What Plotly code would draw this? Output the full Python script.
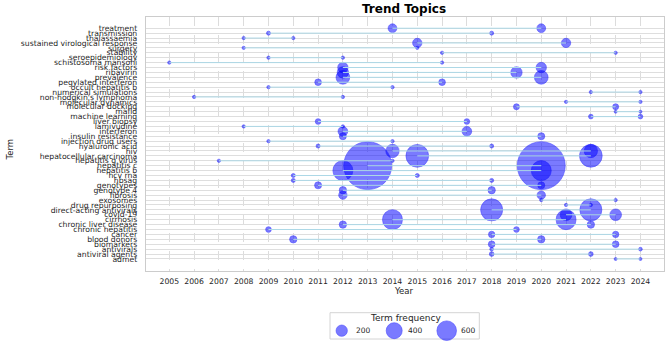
import numpy as np
import plotly.graph_objects as go

# ---- data (top row first) ----
terms = [
    "treatment", "transmission", "thalassaemia", "sustained virological response",
    "surgery", "stability", "seroepidemiology", "schistosoma mansoni", "risk factors",
    "ribavirin", "prevalence", "pegylated interferon", "occult hepatitis b",
    "numerical simulations", "non-hodgkin's lymphoma", "molecular dynamics",
    "molecular docking", "mafld", "machine learning", "liver biopsy", "lamivudine",
    "interferon", "insulin resistance", "injection drug users", "hyaluronic acid",
    "hiv", "hepatocellular carcinoma", "hepatitis g virus", "hepatitis c",
    "hepatitis b", "hcv rna", "hbsag", "genotypes", "genotype 4", "fibrosis",
    "exosomes", "drug repurposing", "direct-acting antivirals", "covid-19",
    "cirrhosis", "chronic liver disease", "chronic hepatitis", "cancer",
    "blood donors", "biomarkers", "antivirals", "antiviral agents", "admet",
]
start_year = [
    2014, 2009, 2008, 2015, 2008, 2016, 2009, 2005, 2012, 2012, 2012, 2011, 2009,
    2022, 2006, 2021, 2019, 2023, 2022, 2011, 2008, 2012, 2012, 2009, 2011, 2014,
    2015, 2007, 2013, 2012, 2010, 2010, 2011, 2012, 2012, 2020, 2021, 2018, 2021,
    2014, 2012, 2009, 2018, 2010, 2018, 2018, 2018, 2023,
]
end_year = [
    2020, 2018, 2010, 2021, 2015, 2023, 2012, 2016, 2020, 2019, 2020, 2016, 2014,
    2024, 2012, 2024, 2023, 2024, 2024, 2017, 2012, 2017, 2020, 2014, 2018, 2022,
    2022, 2014, 2020, 2020, 2015, 2018, 2020, 2018, 2020, 2023, 2022, 2022, 2023,
    2021, 2022, 2019, 2023, 2020, 2023, 2024, 2022, 2024,
]
frequency = [
    120, 25, 17, 136, 17, 17, 17, 17, 167, 200, 292, 69, 17,
    17, 17, 17, 56, 14, 34, 50, 17, 146, 77, 17, 25, 278,
    803, 17, 3600, 625, 25, 25, 77, 84, 109, 17, 17, 756, 213,
    625, 84, 50, 63, 84, 69, 21, 34, 14,
]
years = list(range(2005, 2025))
legend_values = [200, 400, 600]

W, H = 669, 342
FONT = "DejaVu Sans"
BUBBLE = "rgba(0,0,255,0.74)"


def diam(f):
    return 0.8 * np.sqrt(np.asarray(f, dtype=float))


fig = go.Figure()

# bubbles at both ends
fig.add_trace(go.Scatter(
    x=start_year + end_year,
    y=terms + terms,
    mode="markers",
    marker=dict(size=diam(frequency + frequency), sizemode="diameter",
                color=BUBBLE, line=dict(color=BUBBLE, width=0.8)),
    showlegend=False, hoverinfo="skip", cliponaxis=False,
))

# connecting lines (drawn on top)
lx, ly = [], []
for t, s, e in zip(terms, start_year, end_year):
    lx += [s, e, None]
    ly += [t, t, None]
fig.add_trace(go.Scatter(
    x=lx, y=ly, mode="lines", line=dict(color="#add8e6", width=1.0),
    showlegend=False, hoverinfo="skip", connectgaps=False,
))

# size legend on its own small axes
fig.add_trace(go.Scatter(
    x=[0, 1, 2], y=[0.316] * 3, xaxis="x2", yaxis="y2", mode="markers",
    marker=dict(size=diam(legend_values), sizemode="diameter",
                color=BUBBLE, line=dict(color=BUBBLE, width=0.8)),
    showlegend=False, hoverinfo="skip", cliponaxis=False,
))

px_l, px_r, px_t, px_b = 145.75, 664.0, 16.7, 270.5

annotations = [
    dict(text="<b>Trend Topics</b>", x=404 / W, y=1 - 9 / H, xref="paper", yref="paper",
         showarrow=False, font=dict(family=FONT, size=12, color="#000000"),
         xanchor="center", yanchor="middle"),
    dict(text="Year", x=403.5 / W, y=1 - 290.7 / H, xref="paper", yref="paper",
         showarrow=False, font=dict(family=FONT, size=8.5, color="#262626"),
         xanchor="center", yanchor="middle"),
    dict(text="Term", x=9.5 / W, y=1 - 150 / H, xref="paper", yref="paper",
         showarrow=False, textangle=-90, font=dict(family=FONT, size=8.5, color="#262626"),
         xanchor="center", yanchor="middle"),
    dict(text="Term frequency", x=1.206, y=0.787, xref="x2", yref="y2",
         showarrow=False, font=dict(family=FONT, size=9, color="#262626"),
         xanchor="center", yanchor="middle"),
]
for i, v in enumerate(legend_values):
    annotations.append(dict(text=str(v), x=i + 0.41, y=0.316, xref="x2", yref="y2",
                            showarrow=False, font=dict(family=FONT, size=7.5, color="#262626"),
                            xanchor="center", yanchor="middle"))

fig.update_layout(
    width=W, height=H, autosize=False,
    margin=dict(l=0, r=0, t=0, b=0),
    paper_bgcolor="white", plot_bgcolor="white",
    font=dict(family=FONT, size=7.7, color="#262626"),
    hovermode=False,
    xaxis=dict(domain=[px_l / W, px_r / W], range=[2004.05, 2024.95],
               tickmode="array", tickvals=years, ticktext=[str(y) for y in years],
               showgrid=True, gridcolor="#dcdcdc", gridwidth=1, griddash="dash",
               showline=True, mirror=True, linecolor="#cccccc", linewidth=1,
               zeroline=False, ticks="", tickfont=dict(size=7.7), automargin=False,
               ticklabelstandoff=3, anchor="y"),
    yaxis=dict(domain=[1 - px_b / H, 1 - px_t / H], type="category",
               categoryorder="array", categoryarray=terms[::-1],
               range=[-2.35, len(terms) - 1 + 2.35], dtick=1,
               showgrid=True, gridcolor="#dedede", gridwidth=1,
               showline=True, mirror=True, linecolor="#cccccc", linewidth=1,
               zeroline=False, ticks="", tickfont=dict(size=7.7), automargin=False,
               ticklabelstandoff=6, anchor="x"),
    xaxis2=dict(domain=[330 / W, 479.3 / W], range=[-0.223, 2.621], visible=False,
                anchor="y2", fixedrange=True),
    yaxis2=dict(domain=[3 / H, 29.3 / H], range=[0, 1], visible=False,
                anchor="x2", fixedrange=True),
    shapes=[dict(type="rect", xref="x2 domain", yref="y2 domain", x0=0, x1=1, y0=0, y1=1,
                 line=dict(color="#d4d4d4", width=1), fillcolor="white", layer="below")],
    annotations=annotations,
)

fig.write_html(
    "out.html",
    config={"displayModeBar": False, "staticPlot": True},
    post_script="document.body.style.margin='0';document.body.style.overflow='hidden';",
)
